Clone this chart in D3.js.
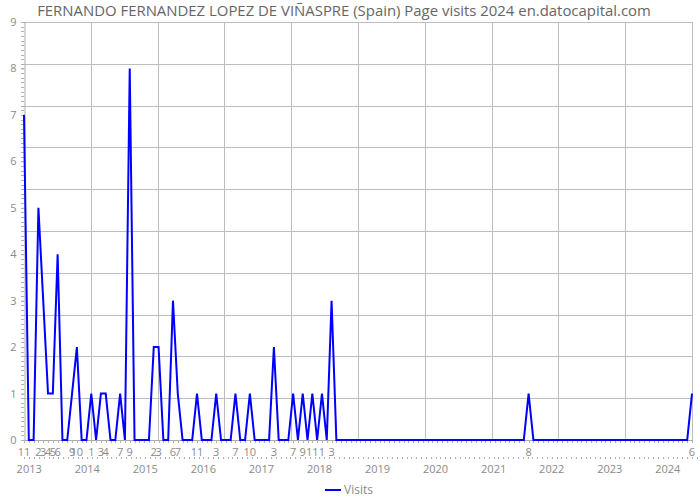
<!DOCTYPE html>
<html>
<head>
<meta charset="utf-8">
<script src="https://cdn.jsdelivr.net/npm/d3@7"></script>
<style>
  body { margin: 0; background: #fff; }
  svg { display: block; }
  text { font-family: "Open Sans", "DejaVu Sans", sans-serif; }
</style>
</head>
<body>
<svg id="chart" width="700" height="500"></svg>
<script>
// ---- data ----
const titleText = "FERNANDO FERNANDEZ LOPEZ DE VIÑASPRE (Spain) Page visits 2024 en.datocapital.com";
const seriesName = "Visits";
const startMonth = "2012-11";
const endMonth = "2024-06";
const visits = [
  7, 0, 0, 5, 3, 1, 1, 4, 0, 0, 1, 2,     // 2012-11 .. 2013-10
  0, 0, 1, 0, 1, 1, 0, 0, 1, 0, 8, 0,     // 2013-11 .. 2014-10
  0, 0, 0, 2, 2, 0, 0, 3, 1, 0, 0, 0,     // 2014-11 .. 2015-10
  1, 0, 0, 0, 1, 0, 0, 0, 1, 0, 0, 1,     // 2015-11 .. 2016-10
  0, 0, 0, 0, 2, 0, 0, 0, 1, 0, 1, 0,     // 2016-11 .. 2017-10
  1, 0, 1, 0, 3, 0, 0, 0, 0, 0, 0, 0,     // 2017-11 .. 2018-10
  0, 0, 0, 0, 0, 0, 0, 0, 0, 0, 0, 0,     // 2018-11 .. 2019-10
  0, 0, 0, 0, 0, 0, 0, 0, 0, 0, 0, 0,     // 2019-11 .. 2020-10
  0, 0, 0, 0, 0, 0, 0, 0, 0, 1, 0, 0,     // 2020-11 .. 2021-10
  0, 0, 0, 0, 0, 0, 0, 0, 0, 0, 0, 0,     // 2021-11 .. 2022-10
  0, 0, 0, 0, 0, 0, 0, 0, 0, 0, 0, 0,     // 2022-11 .. 2023-10
  0, 0, 0, 0, 0, 0, 0, 1                  // 2023-11 .. 2024-06
];
const yTicks = [0, 1, 2, 3, 4, 5, 6, 7, 8, 9];
const yearLabels = [2013, 2014, 2015, 2016, 2017, 2018, 2019, 2020, 2021, 2022, 2023, 2024];

// ---- layout ----
const svg = d3.select("#chart");
const pLeft = 24, pRight = 692, pTop = 22, pBottom = 440;
const parse = d3.timeParse("%Y-%m");
const months = d3.timeMonth.range(parse(startMonth), d3.timeMonth.offset(parse(endMonth), 1));
const data = months.map((d, i) => ({ date: d, i: i, v: visits[i] }));

const x = d3.scaleLinear().domain([0, months.length - 1]).range([pLeft, pRight]);
const y = d3.scaleLinear().domain([0, 9]).range([pBottom, pTop]);
const xYear = d3.scaleLinear().domain([2013, 2024]).range([29.2, 667.8]);

const gridColor = "#bdbdbd";
const textColor = "#8a8a8a";

// grid: 10 equal divisions each way
const grid = svg.append("g");
d3.range(1, 11).forEach(k => {
  const gx = Math.round(pLeft + (pRight - pLeft) * k / 10) + 0.5;
  grid.append("line").attr("x1", gx).attr("x2", gx).attr("y1", pTop).attr("y2", pBottom)
    .attr("stroke", gridColor).attr("stroke-width", 1);
  const gyy = Math.round(pBottom - (pBottom - pTop) * k / 10) + 0.5;
  grid.append("line").attr("x1", pLeft).attr("x2", pRight).attr("y1", gyy).attr("y2", gyy)
    .attr("stroke", gridColor).attr("stroke-width", 1);
});

// y axis
const yAxis = d3.axisLeft(y).tickValues(yTicks).tickSize(3).tickPadding(5).tickFormat(d3.format("d"));
const gAxisY = svg.append("g").attr("transform", `translate(${pLeft + 0.5},0)`).call(yAxis);
gAxisY.select(".domain").attr("stroke", "#aaa");
gAxisY.selectAll(".tick line").attr("stroke", "#aaa");
gAxisY.selectAll(".tick text").attr("fill", textColor).style("font-size", "11px").style("font-family", "'Open Sans', sans-serif");
// y minor ticks
svg.append("g").selectAll("line").data(d3.range(0, 9.001, 0.1)).join("line")
  .attr("x1", pLeft - 3).attr("x2", pLeft).attr("y1", d => Math.round(y(d)) + 0.5).attr("y2", d => Math.round(y(d)) + 0.5)
  .attr("stroke", "#b0b0b0").attr("stroke-width", 1);

// x axis base line and month ticks
svg.append("line").attr("x1", pLeft).attr("x2", pRight).attr("y1", pBottom + 0.5).attr("y2", pBottom + 0.5)
  .attr("stroke", "#aaa");
svg.append("g").selectAll("line").data(data).join("line")
  .attr("x1", d => Math.round(x(d.i)) + 0.5).attr("x2", d => Math.round(x(d.i)) + 0.5)
  .attr("y1", pBottom).attr("y2", pBottom + 3).attr("stroke", "#b0b0b0");

// month labels for nonzero months
const fmtMonth = d3.timeFormat("%-m");
svg.append("g").selectAll("text").data(data.filter(d => d.v > 0)).join("text")
  .attr("x", d => x(d.i)).attr("y", 456).attr("text-anchor", "middle")
  .attr("fill", textColor).style("font-size", "11px").text(d => fmtMonth(d.date));

// dotted minor row for year axis
const yearMonthTicks = d3.range(2012 + 11 / 12, 2024.51, 1 / 12);
svg.append("g").selectAll("line").data(yearMonthTicks).join("line")
  .attr("x1", d => Math.round(xYear(d)) + 0.5).attr("x2", d => Math.round(xYear(d)) + 0.5)
  .attr("y1", 457).attr("y2", 459).attr("stroke", "#b0b0b0");

// year labels
svg.append("g").selectAll("text").data(yearLabels).join("text")
  .attr("x", d => xYear(d)).attr("y", 473).attr("text-anchor", "middle")
  .attr("fill", textColor).style("font-size", "11px").text(d => d);

// line
const line = d3.line().x(d => x(d.i)).y(d => y(d.v));
svg.append("path").datum(data).attr("d", line)
  .attr("fill", "none").attr("stroke", "#0000ff").attr("stroke-width", 2).attr("stroke-linejoin", "miter");

// title
const title = svg.append("text").attr("x", 344).attr("y", 15.5).attr("text-anchor", "middle")
  .attr("fill", "#666").style("font-size", "13px").text(titleText);
const tw = title.node().getComputedTextLength();
title.style("font-size", (13 * 614 / tw).toFixed(2) + "px");

// legend
svg.append("line").attr("x1", 325).attr("x2", 341).attr("y1", 490).attr("y2", 490)
  .attr("stroke", "#0000ff").attr("stroke-width", 2);
svg.append("text").attr("x", 344).attr("y", 494).attr("fill", textColor)
  .style("font-size", "12px").text(seriesName);
</script>
</body>
</html>
